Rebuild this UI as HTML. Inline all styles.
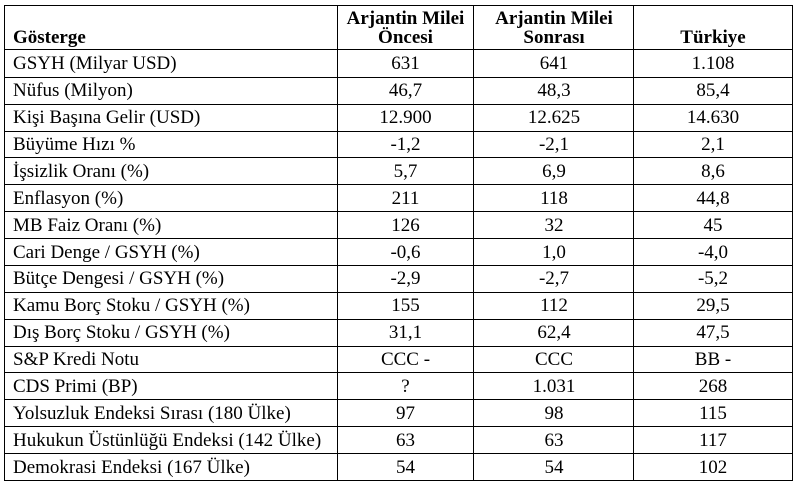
<!DOCTYPE html>
<html>
<head>
<meta charset="utf-8">
<style>
  html, body { margin: 0; padding: 0; background: #fff; }
  body { width: 800px; height: 486px; position: relative; overflow: hidden;
         font-family: "Liberation Serif", "Times New Roman", Times, "DejaVu Serif", "Noto Serif CJK SC", serif; font-size: 19px; color: #000; }
  .h { position: absolute; left: 4px; width: 789px; height: 1px; background: #000; }
  .v { position: absolute; top: 5px; height: 476px; width: 1px; background: #000; }
  .r { position: absolute; left: 0; width: 800px; height: 27px; line-height: 27px; white-space: nowrap; }
  .r span { position: absolute; top: 0; font-family: "Liberation Serif", "Times New Roman", Times, "DejaVu Serif", "Noto Serif CJK SC", serif; }
  .c1 { left: 13px; }
  .c2 { left: 337px; width: 137px; text-align: center; }
  .c3 { left: 474px; width: 160px; text-align: center; }
  .c4 { left: 634px; width: 158px; text-align: center; }
  .hd { position: absolute; font-weight: bold; line-height: 19.3px; white-space: nowrap; font-family: "Liberation Serif", "Times New Roman", Times, "DejaVu Serif", "Noto Serif CJK SC", serif; }
</style>
</head>
<body>
<!-- horizontal lines -->
<div class="h" style="top:5px"></div>
<div class="h" style="top:49px"></div>
<div class="h" style="top:77px"></div>
<div class="h" style="top:104px"></div>
<div class="h" style="top:131px"></div>
<div class="h" style="top:157px"></div>
<div class="h" style="top:184px"></div>
<div class="h" style="top:211px"></div>
<div class="h" style="top:238px"></div>
<div class="h" style="top:265px"></div>
<div class="h" style="top:292px"></div>
<div class="h" style="top:319px"></div>
<div class="h" style="top:346px"></div>
<div class="h" style="top:372px"></div>
<div class="h" style="top:399px"></div>
<div class="h" style="top:426px"></div>
<div class="h" style="top:453px"></div>
<div class="h" style="top:480px"></div>
<!-- vertical lines -->
<div class="v" style="left:4px"></div>
<div class="v" style="left:337px"></div>
<div class="v" style="left:473px"></div>
<div class="v" style="left:633px"></div>
<div class="v" style="left:792px"></div>

<!-- header -->
<div class="hd" style="left:13px; top:28.2px;">Gösterge</div>
<div class="hd" style="left:337px; width:137px; text-align:center; top:8.9px;">Arjantin Milei<br>Öncesi</div>
<div class="hd" style="left:474px; width:160px; text-align:center; top:8.9px;">Arjantin Milei<br>Sonrası</div>
<div class="hd" style="left:634px; width:158px; text-align:center; top:28.2px;">Türkiye</div>

<!-- rows -->
<div class="r" style="top:50.3px"><span class="c1">GSYH (Milyar USD)</span><span class="c2">631</span><span class="c3">641</span><span class="c4">1.108</span></div>
<div class="r" style="top:77.2px"><span class="c1">Nüfus (Milyon)</span><span class="c2">46,7</span><span class="c3">48,3</span><span class="c4">85,4</span></div>
<div class="r" style="top:104.1px"><span class="c1">Kişi Başına Gelir (USD)</span><span class="c2">12.900</span><span class="c3">12.625</span><span class="c4">14.630</span></div>
<div class="r" style="top:130.9px"><span class="c1">Büyüme Hızı %</span><span class="c2">-1,2</span><span class="c3">-2,1</span><span class="c4">2,1</span></div>
<div class="r" style="top:157.8px"><span class="c1">İşsizlik Oranı (%)</span><span class="c2">5,7</span><span class="c3">6,9</span><span class="c4">8,6</span></div>
<div class="r" style="top:184.7px"><span class="c1">Enflasyon (%)</span><span class="c2">211</span><span class="c3">118</span><span class="c4">44,8</span></div>
<div class="r" style="top:211.6px"><span class="c1">MB Faiz Oranı (%)</span><span class="c2">126</span><span class="c3">32</span><span class="c4">45</span></div>
<div class="r" style="top:238.5px"><span class="c1">Cari Denge / GSYH (%)</span><span class="c2">-0,6</span><span class="c3">1,0</span><span class="c4">-4,0</span></div>
<div class="r" style="top:265.3px"><span class="c1">Bütçe Dengesi / GSYH (%)</span><span class="c2">-2,9</span><span class="c3">-2,7</span><span class="c4">-5,2</span></div>
<div class="r" style="top:292.2px"><span class="c1">Kamu Borç Stoku / GSYH (%)</span><span class="c2">155</span><span class="c3">112</span><span class="c4">29,5</span></div>
<div class="r" style="top:319.1px"><span class="c1">Dış Borç Stoku / GSYH (%)</span><span class="c2">31,1</span><span class="c3">62,4</span><span class="c4">47,5</span></div>
<div class="r" style="top:346px"><span class="c1">S&amp;P Kredi Notu</span><span class="c2">CCC -</span><span class="c3">CCC</span><span class="c4">BB -</span></div>
<div class="r" style="top:372.9px"><span class="c1">CDS Primi (BP)</span><span class="c2">?</span><span class="c3">1.031</span><span class="c4">268</span></div>
<div class="r" style="top:399.7px"><span class="c1">Yolsuzluk Endeksi Sırası (180 Ülke)</span><span class="c2">97</span><span class="c3">98</span><span class="c4">115</span></div>
<div class="r" style="top:426.6px"><span class="c1">Hukukun Üstünlüğü Endeksi (142 Ülke)</span><span class="c2">63</span><span class="c3">63</span><span class="c4">117</span></div>
<div class="r" style="top:453.5px"><span class="c1">Demokrasi Endeksi (167 Ülke)</span><span class="c2">54</span><span class="c3">54</span><span class="c4">102</span></div>
</body>
</html>
